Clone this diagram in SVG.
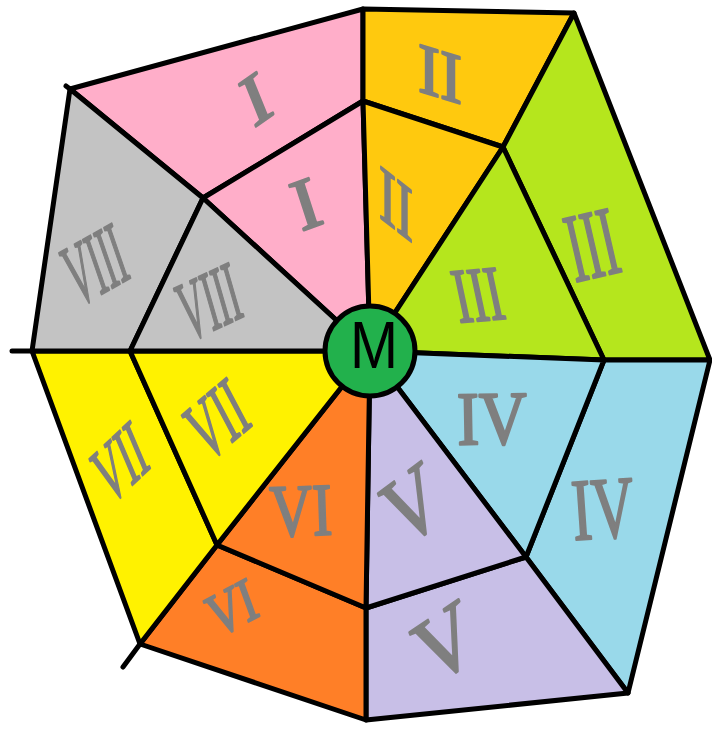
<svg xmlns="http://www.w3.org/2000/svg" width="712" height="731" viewBox="0 0 712 731">
<style>
.r{stroke:#000;stroke-width:5;stroke-linejoin:round}
.ln{stroke:#000;stroke-width:5;stroke-linecap:round;fill:none}
.num{font-family:"Liberation Serif","Times New Roman",serif;fill:#7F7F7F;stroke:#7F7F7F;stroke-width:2.4;stroke-linejoin:round;text-anchor:middle}
.m{font-family:"Liberation Sans",Arial,sans-serif;fill:#000;text-anchor:middle}
</style>
<rect width="712" height="731" fill="#fff"/>
<g id="sector-I">
<polygon class="r" fill="#FFAEC9" points="203,198 70,89 363,9 363,101"/>
<polygon class="r" fill="#FFAEC9" points="370,351 203,198 363,101"/>
<text class="num" transform="translate(256,99) rotate(-22) skewY(-13)" x="0" y="23" font-size="69.5" textLength="26" lengthAdjust="spacingAndGlyphs">I</text>
<text class="num" transform="translate(306,204) rotate(-18) skewY(-2)" x="0" y="24" font-size="72.5" textLength="26" lengthAdjust="spacingAndGlyphs">I</text>
</g>
<g id="sector-II">
<polygon class="r" fill="#FFC90E" points="363,101 363,9 574,13 503,147"/>
<polygon class="r" fill="#FFC90E" points="370,351 363,101 503,147"/>
<text class="num" transform="translate(440,74) skewY(17)" x="0" y="23.5" font-size="71" textLength="44" lengthAdjust="spacingAndGlyphs">II</text>
<text class="num" transform="translate(396,204) skewY(38)" x="0" y="26" font-size="78.5" textLength="34" lengthAdjust="spacingAndGlyphs">II</text>
</g>
<g id="sector-III">
<polygon class="r" fill="#B5E61D" points="503,147 574,13 710,360 604,360"/>
<polygon class="r" fill="#B5E61D" points="370,351 503,147 604,360"/>
<text class="num" transform="translate(478,295) rotate(-12) skewY(7)" x="0" y="26" font-size="78.5" textLength="48" lengthAdjust="spacingAndGlyphs">III</text>
<text class="num" transform="translate(592,245) rotate(-13)" x="0" y="32.5" font-size="98" textLength="50" lengthAdjust="spacingAndGlyphs">III</text>
</g>
<g id="sector-IV">
<polygon class="r" fill="#99D9EA" points="604,360 710,360 628,693 526,557"/>
<polygon class="r" fill="#99D9EA" points="370,351 604,360 526,557"/>
<text class="num" transform="translate(492,419) rotate(-1)" x="0" y="25" font-size="75.5" textLength="70" lengthAdjust="spacingAndGlyphs">IV</text>
<text class="num" transform="translate(603,509) rotate(-4)" x="0" y="29" font-size="87.6" textLength="62" lengthAdjust="spacingAndGlyphs">IV</text>
</g>
<g id="sector-V">
<polygon class="r" fill="#C8BFE7" points="526,557 628,693 366,720 366,608"/>
<polygon class="r" fill="#C8BFE7" points="370,351 526,557 366,608"/>
<text class="num" transform="translate(412,505) rotate(-24) skewY(-13)" x="0" y="31" font-size="93.7" textLength="55" lengthAdjust="spacingAndGlyphs">V</text>
<text class="num" transform="translate(445,643) rotate(-22) skewY(-12)" x="0" y="30" font-size="90.6" textLength="60" lengthAdjust="spacingAndGlyphs">V</text>
</g>
<g id="sector-VI">
<polygon class="r" fill="#FF7F27" points="366,608 366,720 140,644 217,545"/>
<polygon class="r" fill="#FF7F27" points="370,351 366,608 217,545"/>
<text class="num" transform="translate(301,511) rotate(-2)" x="0" y="24.5" font-size="74" textLength="62" lengthAdjust="spacingAndGlyphs">VI</text>
<text class="num" transform="translate(232,608) rotate(-20) skewY(-8)" x="0" y="20" font-size="60.4" textLength="50" lengthAdjust="spacingAndGlyphs">VI</text>
</g>
<g id="sector-VII">
<polygon class="r" fill="#FFF200" points="217,545 140,644 32,351 130,351"/>
<polygon class="r" fill="#FFF200" points="370,351 217,545 130,351"/>
<text class="num" transform="translate(120,463) rotate(-23) skewY(-20)" x="0" y="26" font-size="78.5" textLength="55" lengthAdjust="spacingAndGlyphs">VII</text>
<text class="num" transform="translate(217,420) rotate(-28) skewY(-12)" x="0" y="27.5" font-size="83" textLength="60" lengthAdjust="spacingAndGlyphs">VII</text>
</g>
<g id="sector-VIII">
<polygon class="r" fill="#C3C3C3" points="130,351 32,351 70,89 203,198"/>
<polygon class="r" fill="#C3C3C3" points="370,351 130,351 203,198"/>
<text class="num" transform="translate(95,265) rotate(-19) skewY(-10)" x="0" y="29" font-size="87.6" textLength="62" lengthAdjust="spacingAndGlyphs">VIII</text>
<text class="num" transform="translate(209,302) rotate(-16) skewY(-9)" x="0" y="28" font-size="84.6" textLength="62" lengthAdjust="spacingAndGlyphs">VIII</text>
</g>
<g id="connectors">
<line class="ln" x1="12" y1="351" x2="32" y2="351"/>
<line class="ln" x1="140" y1="644" x2="123" y2="667"/>
<line class="ln" x1="70" y1="89" x2="66" y2="86"/>
</g>
<g id="center-M">
<circle cx="370" cy="351" r="45" fill="#22B14C" stroke="#000" stroke-width="5"/>
<text class="m" x="374" y="368" font-size="67" textLength="48" lengthAdjust="spacingAndGlyphs">M</text>
</g>
</svg>
